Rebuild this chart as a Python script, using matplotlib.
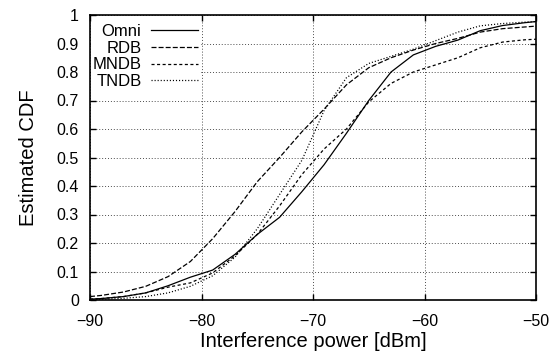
import matplotlib
matplotlib.use("Agg")
import matplotlib.pyplot as plt

plt.rcParams['font.family'] = ['Liberation Sans', 'DejaVu Sans']
plt.rcParams['lines.scale_dashes'] = False

# dados
potencia = [-90, -89, -87, -85, -83, -81, -79, -77, -75, -73, -71,
            -69, -67, -65, -63, -61, -59, -57, -55, -53, -51, -50]
omni = [0.003, 0.005, 0.012, 0.025, 0.05, 0.08, 0.105, 0.16, 0.23, 0.29, 0.38,
        0.475, 0.585, 0.70, 0.80, 0.86, 0.89, 0.912, 0.945, 0.963, 0.973, 0.977]
rdb = [0.012, 0.016, 0.028, 0.048, 0.082, 0.135, 0.215, 0.31, 0.415, 0.50, 0.59,
       0.67, 0.755, 0.815, 0.85, 0.877, 0.90, 0.918, 0.94, 0.952, 0.958, 0.961]
mndb = [0.003, 0.005, 0.012, 0.025, 0.045, 0.06, 0.095, 0.155, 0.23, 0.33, 0.44,
        0.53, 0.60, 0.695, 0.76, 0.80, 0.825, 0.85, 0.885, 0.905, 0.913, 0.915]
tndb = [0.0, 0.002, 0.006, 0.012, 0.025, 0.048, 0.085, 0.15, 0.25, 0.37, 0.49,
        0.665, 0.78, 0.83, 0.855, 0.88, 0.91, 0.94, 0.962, 0.97, 0.975, 0.977]

series = [("Omni", omni, "-"),
          ("RDB", rdb, (0, (3.6, 1.5))),
          ("MNDB", mndb, (0, (2.2, 1.8))),
          ("TNDB", tndb, (0, (0.8, 1.4)))]

fig = plt.figure(figsize=(5.52, 3.54), dpi=100)
ax = fig.add_axes([90/552, 54/354, 446/552, 285/354])

for nome, valores, estilo in series:
    ax.plot(potencia, valores, color="black", linestyle=estilo, linewidth=0.9, label=nome)

ax.set_xlim(-90, -50)
ax.set_ylim(0, 1)
ax.set_xticks([-90, -80, -70, -60, -50])
ax.set_yticks([0, 0.1, 0.2, 0.3, 0.4, 0.5, 0.6, 0.7, 0.8, 0.9, 1])
ax.set_yticklabels(["0", "0.1", "0.2", "0.3", "0.4", "0.5", "0.6", "0.7", "0.8", "0.9", "1"])
ax.grid(True, color="0.3", linestyle=(0, (0.7, 1.4)), linewidth=0.7)
ax.set_axisbelow(True)
ax.tick_params(direction="in", top=True, right=True, length=4.5, width=1.0,
               labelsize=11.5)
ax.tick_params(axis="x", pad=10)
ax.tick_params(axis="y", pad=8)
for s in ax.spines.values():
    s.set_linewidth(1.2)
    s.set_zorder(6)

ax.set_xlabel("Interference power [dBm]", fontsize=14.5, labelpad=2)
ax.set_ylabel("Estimated CDF", fontsize=14.5, labelpad=13)

# legenda estilo gnuplot: texto alinhado a direita, amostra da linha depois
leg = ax.legend(loc="upper left", bbox_to_anchor=(-0.015, 1), markerfirst=False,
                frameon=True, fancybox=False, edgecolor="none", facecolor="white",
                framealpha=1, fontsize=12, handlelength=2.8, handletextpad=0.6,
                labelspacing=0.1, borderpad=0.1, borderaxespad=0.45)
for col in leg._legend_handle_box.get_children():
    col.align = "right"

plt.savefig("out.png", dpi=100)
